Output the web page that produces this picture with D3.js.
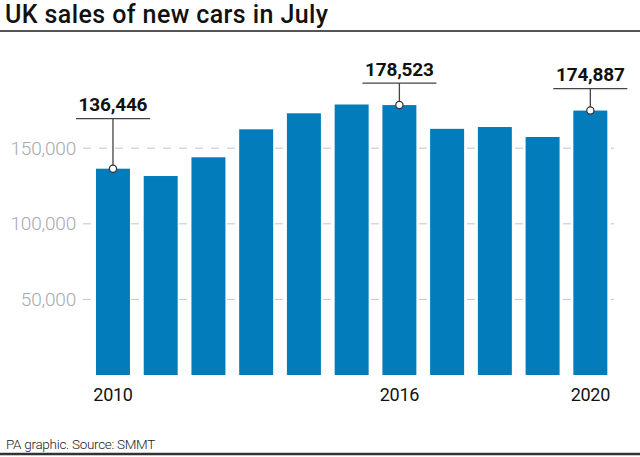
<!DOCTYPE html>
<html>
<head>
<meta charset="utf-8">
<script src="https://cdn.jsdelivr.net/npm/d3@7"></script>
<style>
  html, body { margin: 0; padding: 0; background: #fff; }
  svg { display: block; }
</style>
</head>
<body>
<svg id="chart" width="640" height="457"></svg>
<script>
const years = [2010, 2011, 2012, 2013, 2014, 2015, 2016, 2017, 2018, 2019, 2020];
const sales = [136446, 131600, 144000, 162500, 173100, 178900, 178523, 162800, 164000, 157400, 174887];
const yTicks = [50000, 100000, 150000];
const yearLabels = [2010, 2016, 2020];
const annotated = [2010, 2016, 2020];
const annoOffsets = [50, 22, 22]; // px from bar top to leader line

const svg = d3.select("#chart");
const W = 640, H = 457;

const x = d3.scaleBand().domain(years).range([89.1, 614.2]).paddingInner(0.288).paddingOuter(0.144);
const y = d3.scaleLinear().domain([0, 50000]).range([375, 299.4]);

// title
svg.append("text").attr("x", 5).attr("y", 23)
  .attr("font-family", "Roboto, 'Liberation Sans', sans-serif").attr("font-weight", 500)
  .attr("font-size", 25).attr("fill", "#111").attr("letter-spacing", 0.4)
  .text("UK sales of new cars in July");
svg.append("line").attr("x1", 0).attr("x2", W).attr("y1", 31).attr("y2", 31)
  .attr("stroke", "#555").attr("stroke-width", 2);

// gridlines
const grid = svg.append("g");
grid.selectAll("line").data(yTicks).join("line")
  .attr("x1", 83).attr("x2", 614)
  .attr("y1", d => y(d)).attr("y2", d => y(d))
  .attr("stroke", "#c4c4c8").attr("stroke-width", 1).attr("stroke-dasharray", "8,8");

// y axis labels
const yAxis = d3.axisLeft(y).tickValues(yTicks).tickSize(0).tickPadding(0)
  .tickFormat(d3.format(","));
const ya = svg.append("g").attr("transform", "translate(76,0)").call(yAxis);
ya.select(".domain").remove();
ya.selectAll("text").attr("font-family", "Roboto, sans-serif").attr("font-weight", 300)
  .attr("font-size", 19).attr("fill", "#a8a8b0").attr("letter-spacing", -0.2);

// bars
svg.append("g").selectAll("rect").data(years).join("rect")
  .attr("x", d => x(d)).attr("width", x.bandwidth())
  .attr("y", (d, i) => y(sales[i])).attr("height", (d, i) => y(0) - y(sales[i]))
  .attr("fill", "#027cba");

// x axis labels
const xAxis = d3.axisBottom(x).tickValues(yearLabels).tickSize(0).tickPadding(0);
const xa = svg.append("g").attr("transform", "translate(0,388)").call(xAxis);
xa.select(".domain").remove();
xa.selectAll("text").attr("font-family", "Roboto, sans-serif").attr("font-weight", 400)
  .attr("font-size", 18).attr("fill", "#111").attr("letter-spacing", -0.3).attr("dy", "0.71em");

// annotations
const ann = svg.append("g");
annotated.forEach((yr, k) => {
  const i = years.indexOf(yr);
  const cx = x(yr) + x.bandwidth() / 2;
  const top = y(sales[i]);
  const ly = top - annoOffsets[k];
  ann.append("line").attr("x1", cx - 37).attr("x2", cx + 37).attr("y1", ly).attr("y2", ly)
    .attr("stroke", "#444").attr("stroke-width", 1.3);
  ann.append("line").attr("x1", cx).attr("x2", cx).attr("y1", ly).attr("y2", top)
    .attr("stroke", "#444").attr("stroke-width", 1.3);
  ann.append("circle").attr("cx", cx).attr("cy", top).attr("r", 3.6)
    .attr("fill", "#fff").attr("stroke", "#333").attr("stroke-width", 1.2);
  ann.append("text").attr("x", cx).attr("y", ly - 7.5).attr("text-anchor", "middle")
    .attr("font-family", "Roboto, sans-serif").attr("font-weight", 700)
    .attr("font-size", 19).attr("fill", "#111").attr("letter-spacing", -0.2)
    .text(d3.format(",")(sales[i]));
});

// footer
svg.append("text").attr("x", 6).attr("y", 449)
  .attr("font-family", "Roboto, sans-serif").attr("font-weight", 300)
  .attr("font-size", 13.5).attr("fill", "#222").attr("letter-spacing", -0.3)
  .text("PA graphic. Source: SMMT");
svg.append("line").attr("x1", 0).attr("x2", W).attr("y1", 454).attr("y2", 454)
  .attr("stroke", "#333").attr("stroke-width", 2.5);
</script>
</body>
</html>
